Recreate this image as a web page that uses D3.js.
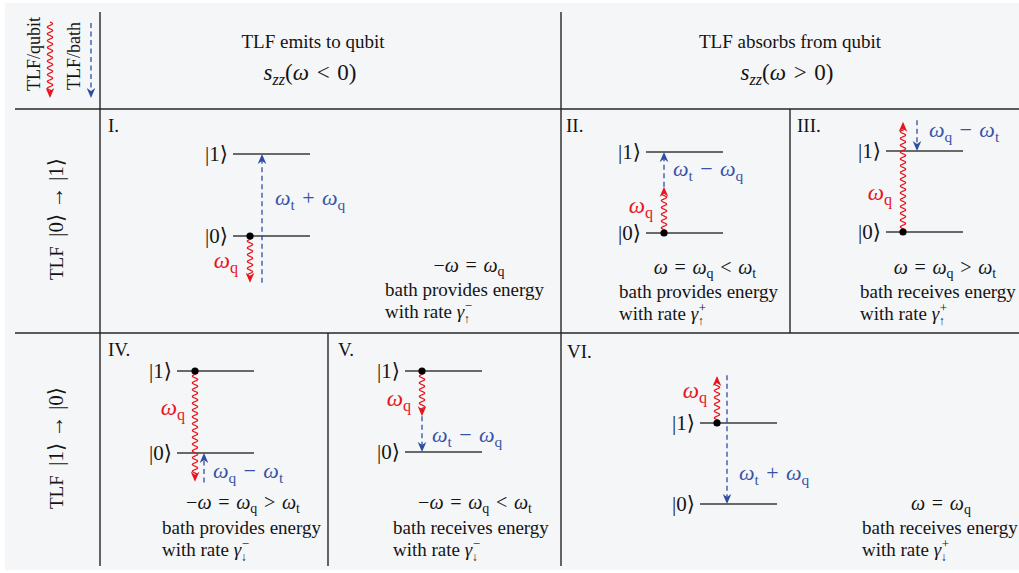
<!DOCTYPE html>
<html><head><meta charset="utf-8">
<script src="https://cdn.jsdelivr.net/npm/d3@7"></script>
<style>
body{margin:0;background:#fff;}
svg{display:block;}
text{font-family:"Liberation Serif","DejaVu Serif",serif;fill:#141414;}
</style></head><body>
<svg id="c" width="1019" height="573"></svg>
<script>
// ---- content of the six transition panels ----
const panelIds = ["I.", "II.", "III.", "IV.", "V.", "VI."];
const columnTitles = ["TLF emits to qubit", "TLF absorbs from qubit"];
const columnSpectra = ["szz(ω < 0)", "szz(ω > 0)"];
const rowStates = [["|0⟩", "|1⟩"], ["|1⟩", "|0⟩"]];
const legendTitles = ["TLF/qubit", "TLF/bath"];
const levelNames = ["|0⟩", "|1⟩"];
// arrow ends as energies in units of the TLF splitting (|0⟩ = 0, |1⟩ = 1)
const qubitFrom = [0, 0, 0, 1, 1, 1];
const qubitTo   = [-0.57, 0.57, 1.36, -0.35, 0.44, 1.58];
const bathFrom  = [-0.57, 0.57, 1.38, -0.36, 0.44, 1.59];
const bathTo    = [1, 1, 1, 0, 0, 0];
const qubitLabel = "ωq";
const bathLabels = ["ωt + ωq", "ωt − ωq", "ωq − ωt", "ωq − ωt", "ωt − ωq", "ωt + ωq"];
const conditions = ["−ω = ωq", "ω = ωq < ωt", "ω = ωq > ωt", "−ω = ωq > ωt", "−ω = ωq < ωt", "ω = ωq"];
const bathRoles = ["bath provides energy", "bath provides energy", "bath receives energy",
                   "bath provides energy", "bath receives energy", "bath receives energy"];
const rateSigns = ["−", "+", "+", "−", "−", "+"];
const rateDirs  = ["↑", "↑", "↑", "↓", "↓", "↓"];

// ---- placement of each panel's drawing ----
const layout = [
  {lx:108, ly:132, x1:233, x2:310, y0:236, y1:154, dotX:250, bathX:262, bl:[275,205], ql:[238,268], cx:469, cy:272, tx:385, ty:[296,318]},
  {lx:566, ly:132, x1:646, x2:723, y0:233, y1:152, dotX:664, bathX:664, bl:[673,176], ql:[653,213], cx:705, cy:274, tx:619, ty:[298,320]},
  {lx:797, ly:132, x1:886, x2:963, y0:232, y1:151, dotX:903, bathX:917, bl:[929,137], ql:[892,200], cx:945, cy:274, tx:860, ty:[298,320]},
  {lx:108, ly:356, x1:177, x2:254, y0:453, y1:371, dotX:195, bathX:204, bl:[213,478], ql:[185,415], cx:243, cy:509, tx:162, ty:[534,556]},
  {lx:338, ly:356, x1:405, x2:482, y0:452, y1:371, dotX:422, bathX:422, bl:[432,442], ql:[411,406], cx:475, cy:509, tx:393, ty:[534,556]},
  {lx:567, ly:358, x1:700, x2:777, y0:504, y1:423, dotX:717, bathX:727, bl:[739,480], ql:[707,398], cx:941, cy:510, tx:862, ty:[534,556]}
];

const RED = "#e8141c", BLUE = "#2f4ea2", BLUE_TXT = "#3553a6";
const svg = d3.select("#c");

svg.append("rect").attr("x", 5).attr("y", 3).attr("width", 1014).attr("height", 567).attr("fill", "#f5f6f8");

// table rules
const rules = [
  [15, 109, 1019, 109], [15, 333, 1019, 333],
  [100, 12, 100, 566], [561, 12, 561, 566],
  [790, 109, 790, 333], [328, 333, 328, 566]
];
svg.append("g").selectAll("line").data(rules).join("line")
  .attr("x1", d => d[0]).attr("y1", d => d[1]).attr("x2", d => d[2]).attr("y2", d => d[3])
  .attr("stroke", "#262626").attr("stroke-width", 1.4);

// formula text: ω, s and z italic; t/q after ω and zz after s are subscripts
function mathText(sel, str, size, color) {
  sel.style("font-size", size + "px");
  const chars = [...str.replace(/ /g, "\u2004")];
  let shifted = false;
  const sub = size * 0.22;
  chars.forEach((ch, i) => {
    const prev = chars[i - 1];
    const isSub = (ch === "t" || ch === "q") && prev === "ω" || ch === "z" && (prev === "s" || prev === "z");
    const t = sel.append("tspan").text(ch);
    let dy = 0;
    if (isSub && !shifted) { dy = sub; shifted = true; }
    else if (!isSub && shifted) { dy = -sub; shifted = false; }
    if (dy) t.attr("dy", dy);
    if (isSub) t.style("font-size", (size * 0.7) + "px");
    if (ch === "ω" || ch === "s" || ch === "z") t.style("font-style", "italic");
    if (color) t.style("fill", color);
  });
  return sel;
}

// wavy (photon) arrow with a filled head at the tip
function wavy(g, x, ya, yb, color) {
  const dir = yb > ya ? 1 : -1;
  const yEnd = yb - dir * 7;
  const len = Math.abs(yEnd - ya);
  const pts = d3.range(0, len + 0.01, 0.5).map(d => [x + 2.7 * Math.sin(2 * Math.PI * d / 6.8), ya + dir * d]);
  g.append("path").attr("d", d3.line().curve(d3.curveBasis)(pts))
    .attr("fill", "none").attr("stroke", color).attr("stroke-width", 1.3);
  head(g, x, yb, dir, color);
}
function dashed(g, x, ya, yb, color) {
  const dir = yb > ya ? 1 : -1;
  g.append("line").attr("x1", x).attr("x2", x).attr("y1", ya).attr("y2", yb - dir * 6)
    .attr("stroke", color).attr("stroke-width", 1.3).attr("stroke-dasharray", "5,3.5");
  head(g, x, yb, dir, color);
}
function head(g, x, y, dir, color) {
  const L = 10, W = 4.3, n = 3;
  g.append("path")
    .attr("d", `M${x},${y} L${x - W},${y - dir * L} L${x},${y - dir * (L - n)} L${x + W},${y - dir * L} Z`)
    .attr("fill", color);
}

// column headers
const colCenters = [313, 790];
columnTitles.forEach((t, i) => {
  svg.append("text").attr("x", colCenters[i]).attr("y", 48).attr("text-anchor", "middle")
    .style("font-size", "19px").text(t);
  mathText(svg.append("text").attr("x", colCenters[i] - 3).attr("y", 80).attr("text-anchor", "middle"),
    columnSpectra[i], 23);
});

// legend in the corner cell
const legendX = [40, 80];
legendTitles.forEach((t, i) => {
  svg.append("text").attr("transform", `translate(${legendX[i]},${i ? 56 : 54}) rotate(-90)`)
    .attr("text-anchor", "middle").style("font-size", "18px").text(t);
});
const lg = svg.append("g");
wavy(lg, 50, 22, 98, RED);
dashed(lg, 91, 23, 98, BLUE);

// row headers
const rowCenters = [219, 448];
rowStates.forEach((s, i) => {
  const tx = svg.append("text").attr("transform", `translate(63,${rowCenters[i]}) rotate(-90)`)
    .attr("text-anchor", "middle").style("font-size", "21px").style("white-space", "pre");
  tx.append("tspan").text("TLF  ").style("font-size", "19px");
  tx.append("tspan").text(s[0]);
  tx.append("tspan").text(" → ").style("font-size", "22px");
  tx.append("tspan").text(s[1]);
});

// the six panels
layout.forEach((L, p) => {
  const g = svg.append("g");
  const y = d3.scaleLinear().domain([0, 1]).range([L.y0, L.y1]);

  g.append("text").attr("x", L.lx).attr("y", L.ly).style("font-size", "19px").text(panelIds[p]);

  levelNames.forEach((name, e) => {
    g.append("line").attr("x1", L.x1).attr("x2", L.x2).attr("y1", y(e)).attr("y2", y(e))
      .attr("stroke", "#3a3a3a").attr("stroke-width", 1.3);
    g.append("text").attr("x", L.x1 - 5).attr("y", y(e) + 7).attr("text-anchor", "end")
      .style("font-size", "21px").text(name);
  });

  dashed(g, L.bathX, y(bathFrom[p]), y(bathTo[p]), BLUE);
  wavy(g, L.dotX, y(qubitFrom[p]), y(qubitTo[p]), RED);
  g.append("circle").attr("cx", L.dotX).attr("cy", y(qubitFrom[p])).attr("r", 3.6).attr("fill", "#000");

  mathText(g.append("text").attr("x", L.bl[0]).attr("y", L.bl[1]), bathLabels[p], 22, BLUE_TXT);
  mathText(g.append("text").attr("x", L.ql[0]).attr("y", L.ql[1]).attr("text-anchor", "end"), qubitLabel, 23, RED);

  mathText(g.append("text").attr("x", L.cx).attr("y", L.cy).attr("text-anchor", "middle"), conditions[p], 20);
  g.append("text").attr("x", L.tx).attr("y", L.ty[0]).style("font-size", "19px").text(bathRoles[p]);

  // "with rate γ" with a stacked superscript sign and subscript arrow
  const rate = g.append("text").attr("x", L.tx).attr("y", L.ty[1]).style("font-size", "19px");
  rate.append("tspan").text("with rate ");
  rate.append("tspan").text("γ").style("font-style", "italic");
  const end = L.tx + rate.node().getComputedTextLength();
  rate.append("tspan").attr("x", end + 0.5).attr("dy", -8).style("font-size", "13px").text(rateSigns[p]);
  rate.append("tspan").attr("x", end - 0.5).attr("dy", 13).style("font-size", "12px").text(rateDirs[p]);
});
</script>
</body></html>
